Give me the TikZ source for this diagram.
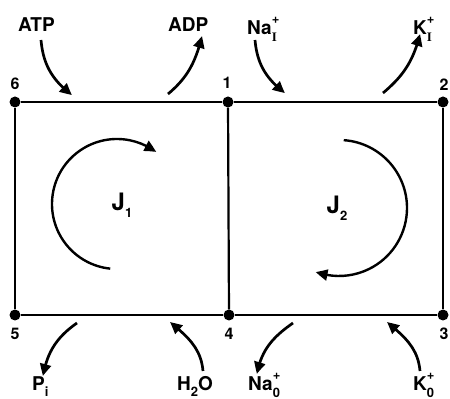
\documentclass[tikz,border=0pt]{standalone}
\usepackage{fontspec}
\setmainfont{TeX Gyre Heros}
\newfontfamily\serifI{Liberation Serif}
\usetikzlibrary{arrows.meta,bending}
\newcommand\ionsup[2]{\rlap{\raisebox{0.62em}{\fontsize{13}{13}\selectfont\bfseries #1}}\raisebox{-0.32em}{\fontsize{13}{13}\selectfont\bfseries #2}}
\newcommand\sbx[1]{\raisebox{-0.28em}{\fontsize{13}{13}\selectfont\bfseries #1}}
\begin{document}
\begin{tikzpicture}[x=1pt,y=1pt,
  vtx/.style={circle,fill=black,inner sep=0pt,minimum size=11pt},
  edgeline/.style={line width=2.2pt},
  flow/.style={line width=2.7pt,-{Triangle[length=12pt,width=11pt,bend]}},
  cyc/.style={line width=2.4pt,-{Triangle[length=12pt,width=11pt,bend]}},
  lbl/.style={inner sep=0pt,anchor=base west,font=\fontsize{19}{21}\selectfont\bfseries},
  num/.style={inner sep=0pt,font=\fontsize{16}{18}\selectfont\bfseries},
  jl/.style={inner sep=0pt,font=\fontsize{24}{26}\selectfont\bfseries}]
\useasboundingbox (0,0) rectangle (450,399);

% vertices
\node[vtx] (n6) at (15,297) {};
\node[vtx] (n1) at (228,297) {};
\node[vtx] (n2) at (443,297) {};
\node[vtx] (n5) at (15,84) {};
\node[vtx] (n4) at (229,84) {};
\node[vtx] (n3) at (443,84) {};

\draw[edgeline] (n6) -- (n1) -- (n2) -- (n3) -- (n4) -- (n5) -- (n6);
\draw[edgeline] (n1) -- (n4);

% vertex numbers
\node[num] (l6) at (15,315) {6};
\node[num] (l1) at (227,316) {1};
\node[num] (l2) at (444,314) {2};
\node[num] (l5) at (15,65) {5};
\node[num] (l4) at (229,65) {4};
\node[num] (l3) at (444,65) {3};

% species labels
\node[lbl] (atp) at (18,367) {ATP};
\node[lbl] (adp) at (168,367) {ADP};
\node[lbl] (nai) at (247,364) {Na\ionsup{+}{\serifI I}};
\node[lbl] (ki) at (413,364) {K\ionsup{+}{\serifI I}};
\node[lbl] (pi) at (32,8) {P\sbx{i}};
\node[lbl] (h2o) at (177,8) {H\sbx{2}O};
\node[lbl] (nao) at (248,8) {Na\ionsup{+}{0}};
\node[lbl] (ko) at (413,8) {K\ionsup{+}{0}};

% arrow end points on the membrane lines
\coordinate (atpS) at (41,359);
\coordinate (atpE) at (72,304);
\coordinate (adpS) at (168,305);
\coordinate (adpE) at (202,363);
\coordinate (naiS) at (255,359);
\coordinate (naiE) at (285,306);
\coordinate (kiS) at (383,306);
\coordinate (kiE) at (420,365);
\coordinate (piS) at (77,76);
\coordinate (piE) at (43,23);
\coordinate (h2oS) at (203,28);
\coordinate (h2oE) at (170,77);
\coordinate (naoS) at (293,76);
\coordinate (naoE) at (257,25);
\coordinate (koS) at (420,28);
\coordinate (koE) at (387,77);

\draw[flow] (atpS) to[out=-85,in=143] (atpE);
\draw[flow] (adpS) to[out=40,in=-104] (adpE);
\draw[flow] (naiS) to[out=-85,in=143] (naiE);
\draw[flow] (kiS) to[out=40,in=-104] (kiE);
\draw[flow] (piS) to[out=215,in=80] (piE);
\draw[flow] (h2oS) to[out=95,in=-40] (h2oE);
\draw[flow] (naoS) to[out=215,in=80] (naoE);
\draw[flow] (koS) to[out=95,in=-40] (koE);

% cycles
\node[jl] (j1) at (122,194) {J\sbx{1}};
\node[jl] (j2) at (337,191) {J\sbx{2}};
\coordinate (c1) at (117,195);
\coordinate (c2) at (339,191);
\draw[cyc] (c1) ++(264:65) arc[start angle=264,end angle=53,radius=65];
\draw[cyc] (c2) ++(86:68) arc[start angle=86,end angle=-110,radius=68];
\end{tikzpicture}
\end{document}
